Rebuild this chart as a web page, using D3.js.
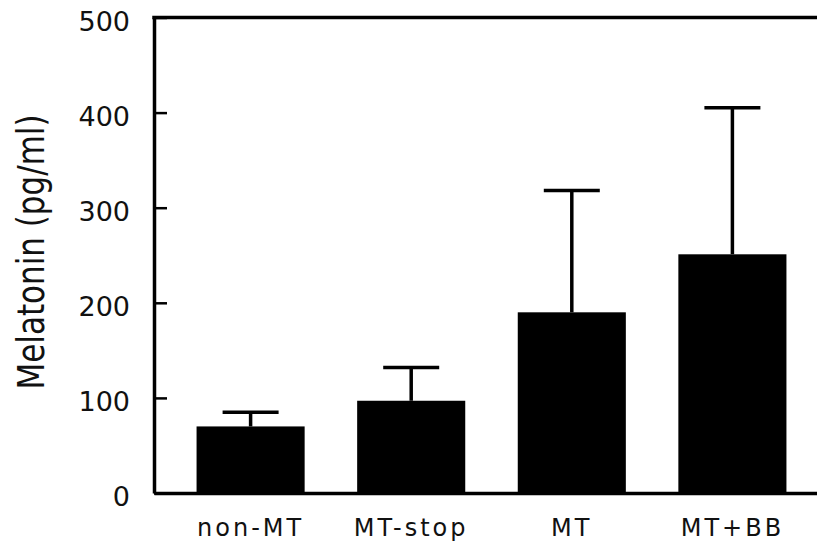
<!DOCTYPE html>
<html>
<head>
<meta charset="utf-8">
<script src="https://cdn.jsdelivr.net/npm/d3@7"></script>
<style>
  body { margin: 0; background: #fff; }
  svg { display: block; }
  text { font-family: 'DejaVu Sans', sans-serif; fill: #111; }
</style>
</head>
<body>
<div class="canvas"></div>
<script>
// data
const groups = ['non-MT', 'MT-stop', 'MT', 'MT+BB']
const means = [70, 97, 190, 251]
const errors = [15, 35, 128, 154]
const yTicks = [0, 100, 200, 300, 400, 500]

const svg = d3.select('.canvas')
    .append('svg')
    .attr('width', 817)
    .attr('height', 549)

// plot area edges (right side runs off the picture)
const plotLeft = 154, plotRight = 829, plotTop = 17.5, plotBottom = 493

const x = d3.scaleBand()
    .domain(groups)
    .range([plotLeft, plotRight])
    .paddingInner(0.327)
    .paddingOuter(0.265)

const y = d3.scaleLinear()
    .domain([0, 500])
    .range([plotBottom, plotTop])

// bars
svg.selectAll('rect.bar')
    .data(groups)
    .enter()
    .append('rect')
    .attr('class', 'bar')
    .attr('x', d => x(d))
    .attr('y', (d, i) => y(means[i]))
    .attr('width', x.bandwidth())
    .attr('height', (d, i) => y(0) - y(means[i]))
    .attr('fill', '#000')

// error bars (upper only)
const capW = 56
const err = svg.append('g')
    .attr('stroke', '#000')
    .attr('stroke-width', 3.5)

err.selectAll('line.stem')
    .data(groups)
    .enter()
    .append('line')
    .attr('x1', d => x(d) + x.bandwidth() / 2)
    .attr('x2', d => x(d) + x.bandwidth() / 2)
    .attr('y1', (d, i) => y(means[i]))
    .attr('y2', (d, i) => y(means[i] + errors[i]))

err.selectAll('line.cap')
    .data(groups)
    .enter()
    .append('line')
    .attr('x1', d => x(d) + x.bandwidth() / 2 - capW / 2)
    .attr('x2', d => x(d) + x.bandwidth() / 2 + capW / 2)
    .attr('y1', (d, i) => y(means[i] + errors[i]))
    .attr('y2', (d, i) => y(means[i] + errors[i]))

// frame: left, bottom, top
const yAxis = d3.axisLeft(y)
    .tickValues(yTicks)
    .tickSizeInner(-13)
    .tickSizeOuter(0)
    .tickPadding(36)

const yAxisGroup = svg.append('g')
    .attr('transform', `translate(${plotLeft}, 0)`)
    .call(yAxis)

yAxisGroup.select('.domain')
    .attr('stroke', '#000')
    .attr('stroke-width', 3.5)
yAxisGroup.selectAll('.tick line')
    .attr('stroke', '#000')
    .attr('stroke-width', 2.5)
yAxisGroup.selectAll('.tick text')
    .attr('font-size', 27)
    .attr('font-family', 'DejaVu Sans')
    .attr('fill', '#111')
    .attr('dy', '0.47em')
    .attr('x', -24)

const xAxis = d3.axisBottom(x)
    .tickSize(0)
    .tickSizeOuter(0)
    .tickPadding(26)

const xAxisGroup = svg.append('g')
    .attr('transform', `translate(0, ${plotBottom})`)
    .call(xAxis)

xAxisGroup.select('.domain')
    .attr('stroke', '#000')
    .attr('stroke-width', 3.5)
xAxisGroup.selectAll('.tick text')
    .attr('font-size', 24)
    .attr('font-family', 'DejaVu Sans')
    .attr('fill', '#111')
    .attr('letter-spacing', 3)

svg.append('line')
    .attr('x1', plotLeft - 1.75)
    .attr('x2', plotRight)
    .attr('y1', plotTop)
    .attr('y2', plotTop)
    .attr('stroke', '#000')
    .attr('stroke-width', 3.5)

// y title
svg.append('text')
    .attr('transform', 'translate(44, 252) scale(1.2, 1) rotate(-90)')
    .attr('text-anchor', 'middle')
    .attr('font-size', 31)
    .text('Melatonin (pg/ml)')
</script>
</body>
</html>
